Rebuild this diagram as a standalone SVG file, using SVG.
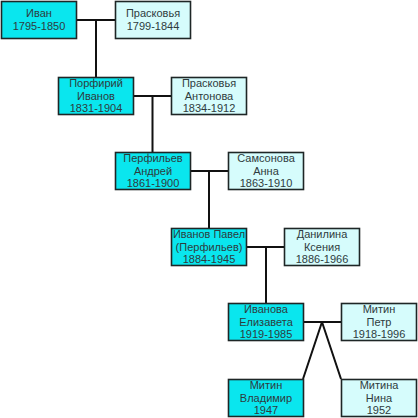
<svg xmlns="http://www.w3.org/2000/svg" width="418" height="418" viewBox="0 0 418 418">
<style>
.b{stroke:#1e2626;stroke-width:1.6}
.m{fill:#0ae6ee}
.f{fill:#d6fcfc}
text{font-family:"Liberation Sans",Arial,sans-serif;font-size:11px;fill:#2e3b3d;text-anchor:middle}
.c{stroke:#111;stroke-width:2;fill:none}
</style>
<rect width="418" height="418" fill="#fff"/>
<g id="connectors">
<path class="c" d="M77 20H115M96 20V77"/>
<path class="c" d="M134 96H171M152.5 96V152"/>
<path class="c" d="M191 171H228M209 171V228"/>
<path class="c" d="M247 247H284M266 247V303"/>
<path class="c" d="M304 322H341M322 322L303 379M322 322L341 379"/>
</g>
<g id="ivan"><rect class="b m" x="1.5" y="1.5" width="75" height="37"/><text x="39" y="17">Иван</text><text x="39" y="30">1795-1850</text></g>
<g id="praskovya1"><rect class="b f" x="115.5" y="1.5" width="75" height="37"/><text x="153" y="17">Прасковья</text><text x="153" y="30">1799-1844</text></g>
<g id="porfiry"><rect class="b m" x="58.5" y="77.5" width="75" height="37"/><text x="96" y="87">Порфирий</text><text x="96" y="99.5">Иванов</text><text x="96" y="112">1831-1904</text></g>
<g id="praskovya2"><rect class="b f" x="171.5" y="77.5" width="75" height="37"/><text x="209" y="87">Прасковья</text><text x="209" y="99.5">Антонова</text><text x="209" y="112">1834-1912</text></g>
<g id="andrey"><rect class="b m" x="115.5" y="152.5" width="75" height="37"/><text x="153" y="162">Перфильев</text><text x="153" y="174.5">Андрей</text><text x="153" y="187">1861-1900</text></g>
<g id="anna"><rect class="b f" x="228.5" y="152.5" width="75" height="37"/><text x="266" y="162">Самсонова</text><text x="266" y="174.5">Анна</text><text x="266" y="187">1863-1910</text></g>
<g id="pavel"><rect class="b m" x="171.5" y="228.5" width="75" height="37"/><text x="209" y="238" textLength="72" lengthAdjust="spacingAndGlyphs">Иванов Павел</text><text x="209" y="250.5">(Перфильев)</text><text x="209" y="263">1884-1945</text></g>
<g id="kseniya"><rect class="b f" x="284.5" y="228.5" width="75" height="37"/><text x="322" y="238">Данилина</text><text x="322" y="250.5">Ксения</text><text x="322" y="263">1886-1966</text></g>
<g id="elizaveta"><rect class="b m" x="228.5" y="303.5" width="75" height="37"/><text x="266" y="313">Иванова</text><text x="266" y="325.5">Елизавета</text><text x="266" y="338">1919-1985</text></g>
<g id="petr"><rect class="b f" x="341.5" y="303.5" width="75" height="37"/><text x="379" y="313">Митин</text><text x="379" y="325.5">Петр</text><text x="379" y="338">1918-1996</text></g>
<g id="vladimir"><rect class="b m" x="228.5" y="379.5" width="75" height="37"/><text x="266" y="389">Митин</text><text x="266" y="401.5">Владимир</text><text x="266" y="414">1947</text></g>
<g id="nina"><rect class="b f" x="341.5" y="379.5" width="75" height="37"/><text x="379" y="389">Митина</text><text x="379" y="401.5">Нина</text><text x="379" y="414">1952</text></g>
</svg>
